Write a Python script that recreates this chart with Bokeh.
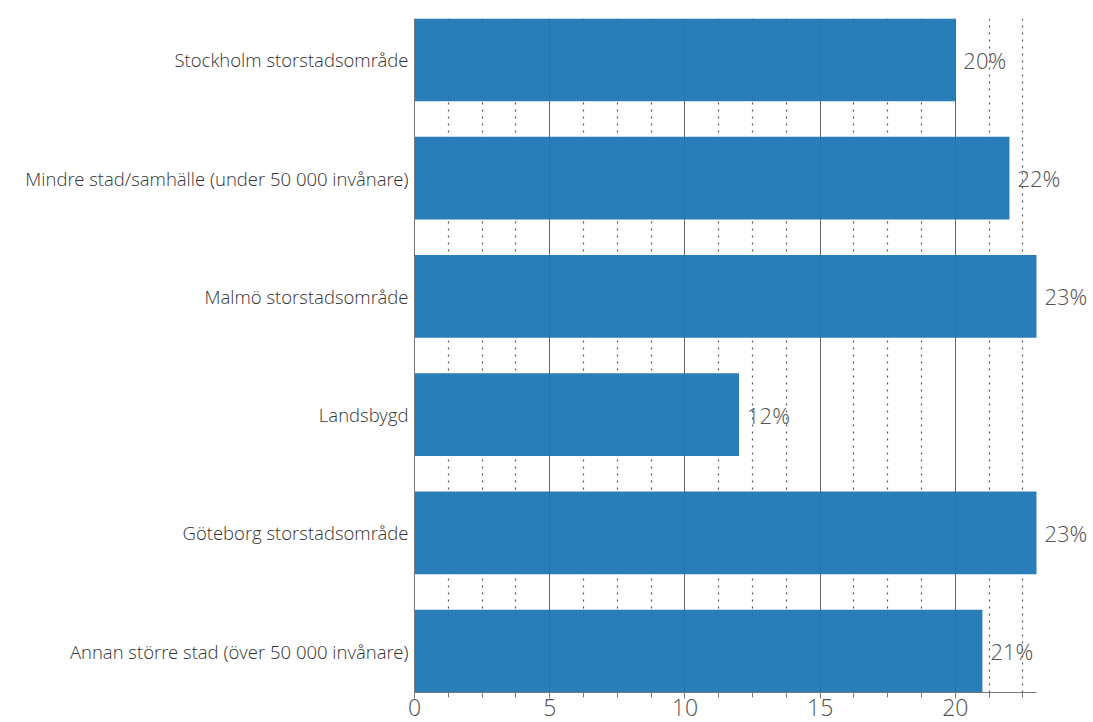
from bokeh.plotting import figure
from bokeh.models import ColumnDataSource, FixedTicker, Range1d
from bokeh.embed import file_html
from bokeh.resources import INLINE
from bokeh.core.properties import value

categories = [
    "Stockholm storstadsområde",
    "Mindre stad/samhälle (under 50 000 invånare)",
    "Malmö storstadsområde",
    "Landsbygd",
    "Göteborg storstadsområde",
    "Annan större stad (över 50 000 invånare)",
]
values = [20, 22, 23, 12, 23, 21]
x_ticks = [0, 5, 10, 15, 20]
x_minor = [1.25, 2.5, 3.75, 6.25, 7.5, 8.75, 11.25, 12.5, 13.75,
           16.25, 17.5, 18.75, 21.25, 22.5]
x_max = 23

FONT = "Open Sans Light"

n = len(categories)
ypos = [n - 1 - i for i in range(n)]
labels = [f"{v}%" for v in values]
bar_h = 0.7

src = ColumnDataSource(dict(y=ypos, v=values, lab=labels, cat=categories))

# frame spans 414..1093; axis 0..23 occupies 414..1036
frame_w = 1093 - 414
axis_w = 1036 - 414
p = figure(width=1093, height=722, output_backend="svg", toolbar_location=None,
           x_range=Range1d(0, x_max * frame_w / axis_w),
           y_range=Range1d(-bar_h / 2, n - 1 + bar_h / 2),
           min_border_left=414, min_border_right=0, min_border_top=18,
           min_border_bottom=30)
p.outline_line_color = None
p.background_fill_color = "white"
p.border_fill_color = "white"

# grid
p.xgrid.ticker = FixedTicker(ticks=x_ticks, minor_ticks=x_minor)
p.xgrid.bounds = (0, x_max)
p.xgrid.grid_line_color = "#666666"
p.xgrid.grid_line_width = 1
p.xgrid.minor_grid_line_color = "#555555"
p.xgrid.minor_grid_line_dash = "2 5"
p.xgrid.minor_grid_line_width = 1.2
p.ygrid.grid_line_color = None

p.hbar(y="y", right="v", left=0, height=bar_h, source=src,
       fill_color="#1f77b4", fill_alpha=0.95, line_color=None)

p.text(x="v", y="y", text="lab", source=src, x_offset=8,
       text_font=value(FONT), text_font_size="22px",
       text_color="#555555", text_baseline="middle", text_align="left")

# x axis
p.xaxis.ticker = FixedTicker(ticks=x_ticks, minor_ticks=x_minor)
p.xaxis.bounds = (0, x_max)
p.xaxis.axis_line_color = "#777777"
p.xaxis.major_tick_line_color = "#777777"
p.xaxis.minor_tick_line_color = "#777777"
p.xaxis.major_tick_out = 6
p.xaxis.major_tick_in = 0
p.xaxis.minor_tick_out = 5
p.xaxis.minor_tick_in = 0
p.xaxis.major_label_text_font = FONT
p.xaxis.major_label_text_font_size = "23px"
p.xaxis.major_label_text_color = "#555555"
p.xaxis.major_label_standoff = 0

# y axis
p.yaxis.ticker = FixedTicker(ticks=ypos)
p.yaxis.major_label_overrides = {y: c for y, c in zip(ypos, categories)}
p.yaxis.axis_line_color = "#777777"
p.yaxis.major_tick_line_color = None
p.yaxis.minor_tick_line_color = None
p.yaxis.major_label_text_font = FONT
p.yaxis.major_label_text_font_size = "18.5px"
p.yaxis.major_label_text_color = "#333333"
p.yaxis.major_label_standoff = 0

open("out.html", "w").write(file_html(p, INLINE))
